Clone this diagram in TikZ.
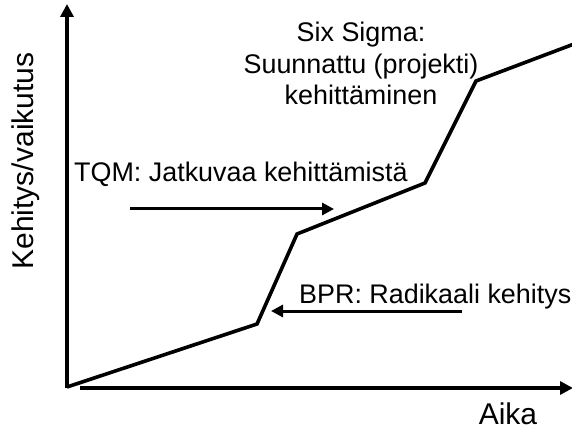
\documentclass[tikz,border=0pt]{standalone}
\usepackage{fontspec}
\setmainfont{Liberation Sans}
\usetikzlibrary{arrows.meta}
\begin{document}
\begin{tikzpicture}[x=1pt,y=-1pt,
  axis/.style={line width=4pt,-{Triangle[length=13pt,width=13pt]}},
  growth/.style={line width=3.6pt,line join=miter},
  pointer/.style={line width=3pt,-{Triangle[length=12pt,width=12pt]}},
  lbl/.style={inner sep=0pt,font=\fontsize{26.9}{31.5}\selectfont},
  axlbl/.style={inner sep=0pt,font=\fontsize{30}{34}\selectfont}]
\useasboundingbox (0,0) rectangle (572,430);

% axes
\coordinate (o) at (67,388);
\coordinate (ytop) at (67,4);
\coordinate (xstart) at (80,388);
\coordinate (xend) at (573,388);
\draw[axis] (o) -- (ytop);
\draw[axis] (xstart) -- (xend);

% development curve
\coordinate (p0) at (67,387);
\coordinate (p1) at (257,324);
\coordinate (p2) at (297,234);
\coordinate (p3) at (425,183);
\coordinate (p4) at (476,81);
\coordinate (p5) at (574,44);
\draw[growth] (p0) -- (p1) -- (p2) -- (p3) -- (p4) -- (p5);

% labels
\node[lbl,align=center,anchor=base] (six) at (361,105)
  {Six Sigma:\\Suunnattu (projekti)\\kehittäminen};
\node[lbl,anchor=base west] (tqm) at (74,182) {TQM: Jatkuvaa kehittämistä};
\node[lbl,anchor=base west] (bpr) at (299,303) {BPR: Radikaali kehitys};
\node[axlbl,rotate=90,anchor=base] (ylab) at (33,161) {Kehitys/vaikutus};
\node[axlbl,anchor=base] (xlab) at (508,424) {Aika};

% pointers
\coordinate (tqmfrom) at (130,209);
\coordinate (tqmto) at (334,209);
\coordinate (bprfrom) at (462,311);
\coordinate (bprto) at (271,311);
\draw[pointer] (tqmfrom) -- (tqmto);
\draw[pointer] (bprfrom) -- (bprto);
\end{tikzpicture}
\end{document}
